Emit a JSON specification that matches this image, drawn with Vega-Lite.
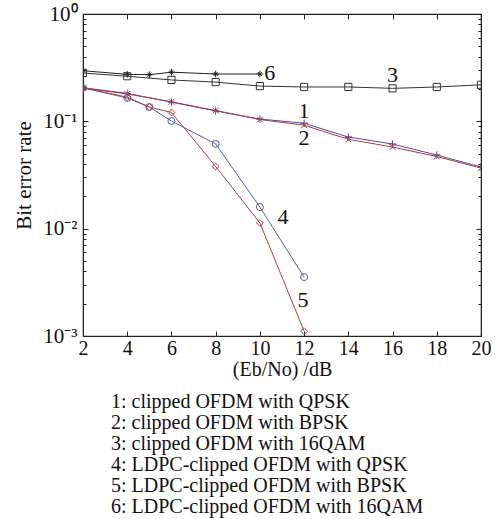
{
  "$schema": "https://vega.github.io/schema/vega-lite/v6.json",
  "width": 398,
  "height": 322,
  "padding": {"left": 13, "top": 3, "right": 5, "bottom": 5},
  "background": "white",
  "config": {
    "font": "Liberation Serif",
    "view": {"stroke": "#222", "strokeWidth": 1.2}
  },
  "title": {
    "text": ["1: clipped OFDM with QPSK", "2: clipped OFDM with BPSK", "3: clipped OFDM with 16QAM", "4: LDPC-clipped OFDM with QPSK", "5: LDPC-clipped OFDM with BPSK", "6: LDPC-clipped OFDM with 16QAM"],
    "orient": "bottom",
    "anchor": "start",
    "frame": "group",
    "dx": 28,
    "offset": 13,
    "font": "Liberation Serif",
    "fontSize": 20,
    "fontWeight": "normal",
    "lineHeight": 21,
    "color": "#111"
  },
  "datasets": {
    "ber": [
      {"s": "1", "x": 2, "y": 0.206}, {"s": "1", "x": 4, "y": 0.182}, {"s": "1", "x": 6, "y": 0.151}, {"s": "1", "x": 8, "y": 0.125}, {"s": "1", "x": 10, "y": 0.105}, {"s": "1", "x": 12, "y": 0.096}, {"s": "1", "x": 14, "y": 0.0714}, {"s": "1", "x": 16, "y": 0.0615}, {"s": "1", "x": 18, "y": 0.0485}, {"s": "1", "x": 20, "y": 0.0375},
      {"s": "2", "x": 2, "y": 0.204}, {"s": "2", "x": 4, "y": 0.18}, {"s": "2", "x": 6, "y": 0.152}, {"s": "2", "x": 8, "y": 0.126}, {"s": "2", "x": 10, "y": 0.104}, {"s": "2", "x": 12, "y": 0.092}, {"s": "2", "x": 14, "y": 0.068}, {"s": "2", "x": 16, "y": 0.0576}, {"s": "2", "x": 18, "y": 0.047}, {"s": "2", "x": 20, "y": 0.0367},
      {"s": "3", "x": 2, "y": 0.282}, {"s": "3", "x": 4, "y": 0.263}, {"s": "3", "x": 6, "y": 0.243}, {"s": "3", "x": 8, "y": 0.232}, {"s": "3", "x": 10, "y": 0.213}, {"s": "3", "x": 12, "y": 0.209}, {"s": "3", "x": 14, "y": 0.209}, {"s": "3", "x": 16, "y": 0.203}, {"s": "3", "x": 18, "y": 0.209}, {"s": "3", "x": 20, "y": 0.219},
      {"s": "4", "x": 2, "y": 0.205}, {"s": "4", "x": 4, "y": 0.165}, {"s": "4", "x": 5, "y": 0.136}, {"s": "4", "x": 6, "y": 0.1006}, {"s": "4", "x": 8, "y": 0.0616}, {"s": "4", "x": 10, "y": 0.0159}, {"s": "4", "x": 12, "y": 0.00354},
      {"s": "5", "x": 2, "y": 0.205}, {"s": "5", "x": 4, "y": 0.168}, {"s": "5", "x": 5, "y": 0.136}, {"s": "5", "x": 6, "y": 0.121}, {"s": "5", "x": 8, "y": 0.038}, {"s": "5", "x": 10, "y": 0.0113}, {"s": "5", "x": 12, "y": 0.00111},
      {"s": "6", "x": 2, "y": 0.296}, {"s": "6", "x": 4, "y": 0.274}, {"s": "6", "x": 5, "y": 0.272}, {"s": "6", "x": 6, "y": 0.287}, {"s": "6", "x": 8, "y": 0.276}, {"s": "6", "x": 10, "y": 0.276}
    ],
    "labels": [
      {"t": "1", "x": 12, "y": 0.125},
      {"t": "2", "x": 12, "y": 0.0698},
      {"t": "3", "x": 16, "y": 0.27},
      {"t": "4", "x": 11.05, "y": 0.0128},
      {"t": "5", "x": 11.95, "y": 0.00216},
      {"t": "6", "x": 10.45, "y": 0.282}
    ]
  },
  "resolve": {"axis": {"x": "independent", "y": "independent"}},
  "layer": [
    {
      "data": {"name": "ber"},
      "mark": {"type": "line", "strokeWidth": 1, "clip": true},
      "encoding": {
        "x": {
          "field": "x", "type": "quantitative",
          "scale": {"domain": [2, 20], "nice": false},
          "axis": {
            "values": [2, 4, 6, 8, 10, 12, 14, 16, 18, 20],
            "title": "(Eb/No) /dB",
            "titleFont": "Liberation Serif", "titleFontSize": 20, "titleFontWeight": "normal", "titleColor": "#111", "titlePadding": 1,
            "labelFont": "Liberation Serif", "labelFontSize": 20, "labelColor": "#111",
            "tickSize": -5, "tickColor": "#222", "labelPadding": 7,
            "domainColor": "#222", "grid": false, "labelFlush": false
          }
        },
        "y": {
          "field": "y", "type": "quantitative",
          "scale": {"type": "log", "domain": [0.001, 1], "nice": false},
          "axis": {
            "values": [0.001, 0.002, 0.003, 0.004, 0.005, 0.006, 0.007, 0.008, 0.009, 0.01, 0.02, 0.03, 0.04, 0.05, 0.06, 0.07, 0.08, 0.09, 0.1, 0.2, 0.3, 0.4, 0.5, 0.6, 0.7, 0.8, 0.9, 1],
            "labelExpr": "datum.value == 1 ? '10⁰' : datum.value == 0.1 ? '10⁻¹' : datum.value == 0.01 ? '10⁻²' : datum.value == 0.001 ? '10⁻³' : ''",
            "title": "Bit error rate",
            "titleFont": "Liberation Serif", "titleFontSize": 21, "titleFontWeight": "normal", "titleColor": "#111", "titlePadding": 8,
            "labelFont": "Liberation Serif", "labelFontSize": 21, "labelColor": "#111",
            "tickSize": {"condition": {"test": "datum.value == 1 || datum.value == 0.1 || datum.value == 0.01 || datum.value == 0.001", "value": -5}, "value": -3},
            "tickColor": "#222", "labelPadding": 11, "labelFlush": false,
            "domainColor": "#222", "grid": false
          }
        },
        "color": {
          "field": "s", "type": "nominal",
          "scale": {"domain": ["1", "2", "3", "4", "5", "6"], "range": ["#4a4e9c", "#b03a3a", "#333333", "#5a5e9c", "#b04040", "#222222"]},
          "legend": null
        },
        "detail": {"field": "s"}
      }
    },
    {
      "data": {"name": "ber"},
      "mark": {"type": "point", "filled": false, "strokeWidth": 1, "opacity": 1, "clip": true},
      "encoding": {
        "x": {"field": "x", "type": "quantitative", "axis": {"orient": "top", "labels": false, "title": null, "tickSize": -5, "tickColor": "#222", "values": [2, 4, 6, 8, 10, 12, 14, 16, 18, 20], "domainColor": "#222", "grid": false}},
        "y": {"field": "y", "type": "quantitative", "axis": {"orient": "right", "labels": false, "title": null,
            "values": [0.001, 0.002, 0.003, 0.004, 0.005, 0.006, 0.007, 0.008, 0.009, 0.01, 0.02, 0.03, 0.04, 0.05, 0.06, 0.07, 0.08, 0.09, 0.1, 0.2, 0.3, 0.4, 0.5, 0.6, 0.7, 0.8, 0.9, 1],
            "tickSize": {"condition": {"test": "datum.value == 1 || datum.value == 0.1 || datum.value == 0.01 || datum.value == 0.001", "value": -5}, "value": -3},
            "tickColor": "#222", "domainColor": "#222", "grid": false}},
        "color": {"field": "s", "type": "nominal", "legend": null},
        "shape": {
          "field": "s", "type": "nominal",
          "scale": {"domain": ["1", "2", "3", "4", "5", "6"], "range": ["M-1,0L1,0M0,-1L0,1", "M-0.8,-0.8L0.8,0.8M-0.8,0.8L0.8,-0.8", "square", "circle", "diamond", "M-1,0L1,0M0,-1L0,1M-0.6,-0.6L0.6,0.6M-0.6,0.6L0.6,-0.6"]},
          "legend": null
        },
        "size": {
          "field": "s", "type": "nominal",
          "scale": {"domain": ["1", "2", "3", "4", "5", "6"], "range": [55, 45, 45, 40, 40, 36]},
          "legend": null
        }
      }
    },
    {
      "data": {"name": "labels"},
      "mark": {"type": "text", "font": "Liberation Serif", "fontSize": 22, "color": "#111", "align": "center", "baseline": "middle"},
      "encoding": {
        "x": {"field": "x", "type": "quantitative", "axis": null},
        "y": {"field": "y", "type": "quantitative", "axis": null},
        "text": {"field": "t"}
      }
    }
  ]
}
